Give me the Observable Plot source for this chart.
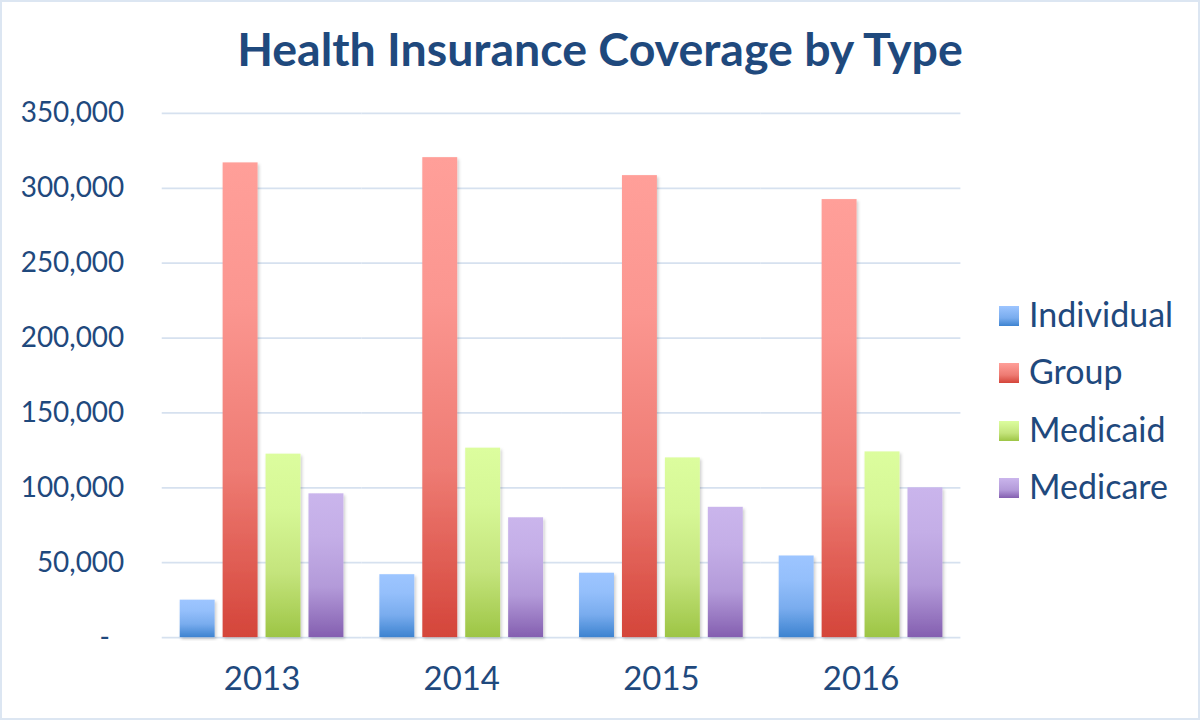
<!DOCTYPE html>
<html>
<head>
<meta charset="utf-8">
<script src="https://cdn.jsdelivr.net/npm/d3@7"></script>
<script src="https://cdn.jsdelivr.net/npm/@observablehq/plot@0.6"></script>
<style>
  html, body { margin: 0; padding: 0; background: #ffffff; }
  #chart {
    position: relative; width: 1200px; height: 720px; box-sizing: border-box;
    border: 2px solid #DCE6F2; background: #ffffff; overflow: hidden;
    font-family: Lato, "Open Sans", sans-serif; color: #1F497D;
  }
  #title {
    position: absolute; left: 0; top: 19px; width: 1196px; text-align: center;
    font-size: 46.5px; font-weight: 700; line-height: 1.2; color: #1F497D; white-space: nowrap;
  }
  #plot { position: absolute; left: -2px; top: 93px; }
  #legend { position: absolute; left: 997px; top: 0; }
  .item { position: absolute; left: 0; display: flex; align-items: center; white-space: nowrap; }
  .sw { width: 20px; height: 20px; margin-right: 10px; margin-top: 3px; }
  .lab { font-size: 34px; line-height: 1; color: #1F497D; }
</style>
</head>
<body>
<div id="chart">
  <div id="title">Health Insurance Coverage by Type</div>
  <div id="plot"></div>
  <div id="legend"></div>
</div>
<script>
const years = ["2013", "2014", "2015", "2016"];
const types = ["Individual", "Group", "Medicaid", "Medicare"];
const individual = [25000, 42000, 43000, 54500];
const group = [317000, 320500, 308500, 292500];
const medicaid = [122500, 126500, 120000, 124000];
const medicare = [96000, 80000, 87000, 100000];
const yTicks = [0, 50000, 100000, 150000, 200000, 250000, 300000, 350000];

const topColors = ["#9DC5FF", "#FF9F99", "#DCFD9E", "#CAB5EC"];
const midColors = ["#79ACEE", "#EE7B73", "#C4E47C", "#B39AD9"];
const bottomColors = ["#3D83D0", "#D4453A", "#9DC545", "#845FB0"];

const seriesValues = [individual, group, medicaid, medicare];
const rows = [];
years.forEach((yr, i) => {
  types.forEach((t, j) => rows.push({year: yr, type: t, value: seriesValues[j][i]}));
});

const textColor = "#1F497D";
const gridColor = "#D6E1EF";

const svg = Plot.plot({
  width: 1200,
  height: 627,
  marginLeft: 162,
  marginRight: 238,
  marginTop: 18,
  marginBottom: 84,
  style: {background: "transparent", fontFamily: "Lato, 'Open Sans', sans-serif", overflow: "visible"},
  fx: {domain: years, padding: 0, label: null},
  x: {domain: types, paddingInner: 0.19, paddingOuter: 0.405, axis: null},
  y: {domain: [0, 350000], label: null},
  color: {domain: types, range: types.map((t, i) => `url(#grad${i})`)},
  marks: [
    Plot.ruleY(yTicks, {stroke: gridColor, strokeWidth: 1.8}),
    Plot.barY(rows, {fx: "year", x: "type", y: "value", fill: "type"}),
    Plot.axisY({ticks: yTicks, tickSize: 0, tickPadding: 38, fontSize: 28, fill: textColor, label: null,
      tickFormat: d => d === 0 ? "-\u00A0\u00A0" : d3.format(",")(d)}),
    Plot.axisFx({anchor: "bottom", tickSize: 0, tickPadding: 29, fontSize: 33, fill: textColor, label: null})
  ]
});

// gradient definitions for the bars
const defs = d3.select(svg).insert("defs", ":first-child");
types.forEach((t, i) => {
  const g = defs.append("linearGradient").attr("id", `grad${i}`)
    .attr("x1", 0).attr("y1", 0).attr("x2", 0).attr("y2", 1);
  g.append("stop").attr("offset", "0%").attr("stop-color", topColors[i]);
  g.append("stop").attr("offset", "30%").attr("stop-color", d3.interpolateRgb(topColors[i], midColors[i])(0.25));
  g.append("stop").attr("offset", "65%").attr("stop-color", midColors[i]);
  g.append("stop").attr("offset", "100%").attr("stop-color", bottomColors[i]);
});
const f = defs.append("filter").attr("id", "shadow").attr("x", "-20%").attr("y", "-5%").attr("width", "140%").attr("height", "115%");
f.append("feDropShadow").attr("dx", 1.5).attr("dy", 2).attr("stdDeviation", 1.5).attr("flood-color", "#000").attr("flood-opacity", 0.2);
d3.select(svg).selectAll("rect").filter(function() { return (this.getAttribute("fill") || "").startsWith("url(#grad"); })
  .attr("filter", "url(#shadow)");

document.getElementById("plot").appendChild(svg);

// legend
const legend = d3.select("#legend");
const legendTops = [312, 369, 427, 484];
types.forEach((t, i) => {
  const item = legend.append("div").attr("class", "item").style("top", (legendTops[i] - 17) + "px").style("height", "34px");
  item.append("div").attr("class", "sw")
    .style("background", `linear-gradient(to bottom, ${topColors[i]}, ${midColors[i]} 60%, ${bottomColors[i]})`);
  item.append("div").attr("class", "lab").text(t);
});
</script>
</body>
</html>
